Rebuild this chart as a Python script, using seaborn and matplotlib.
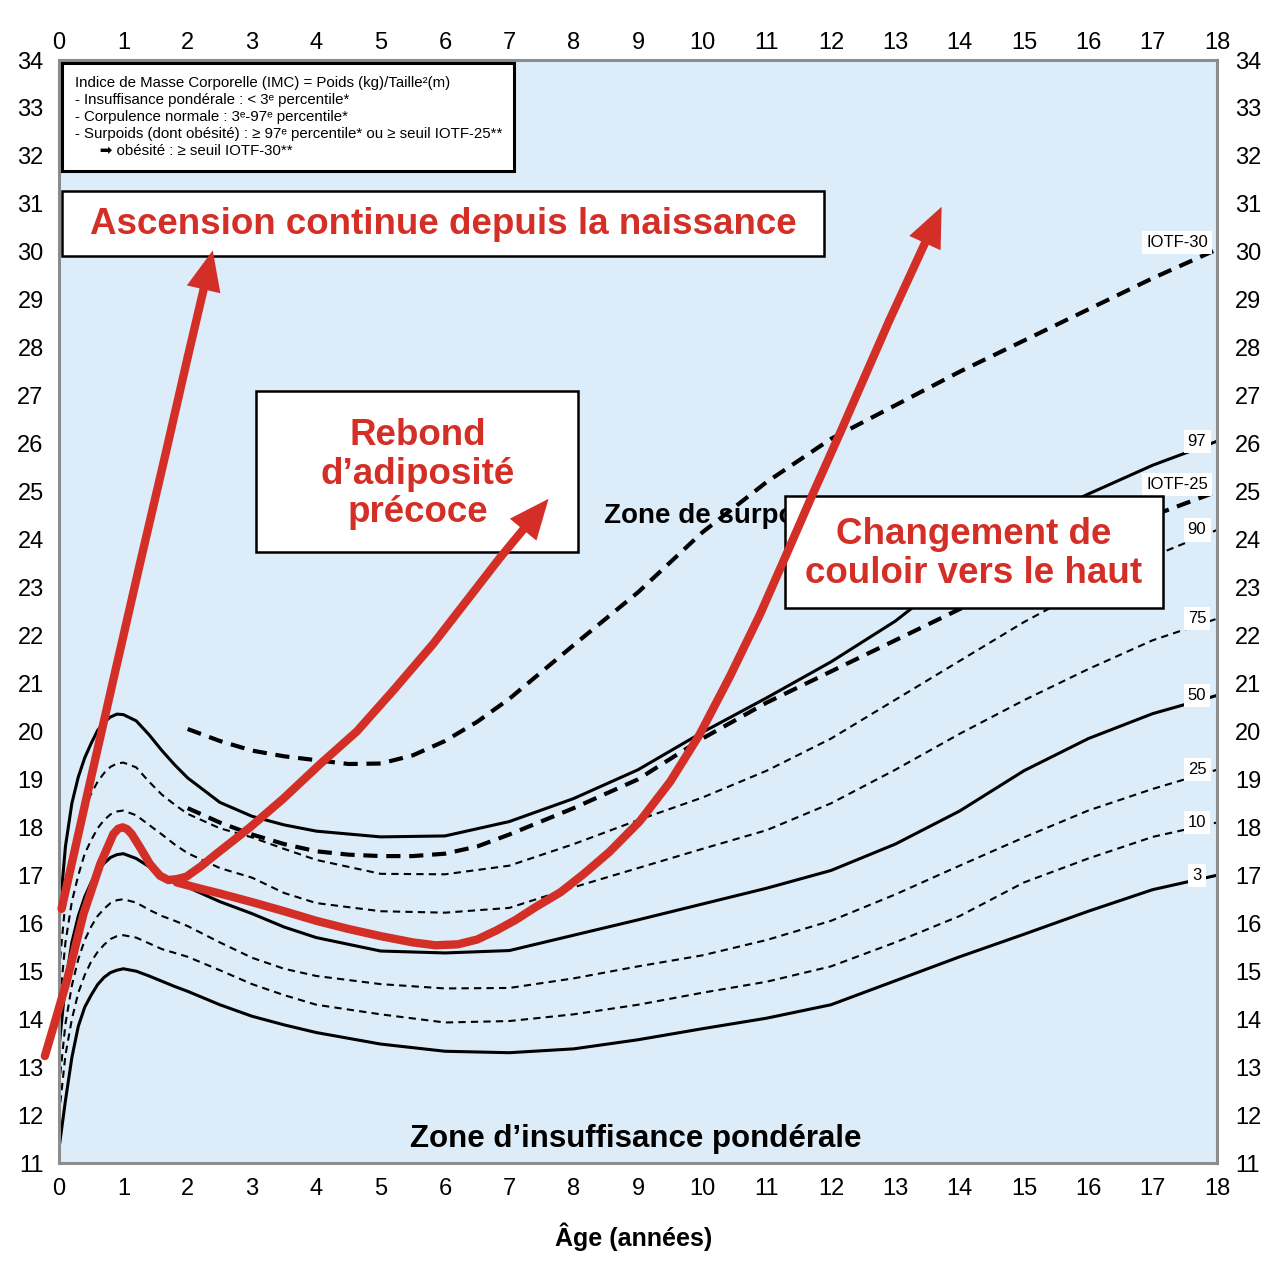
import matplotlib
matplotlib.use("Agg")
import matplotlib.pyplot as plt
from matplotlib.patches import Rectangle
import seaborn as sns

# 1. DATA (BMI, kg/m2, by age in years)
ages = [0, 0.1, 0.2, 0.3, 0.4, 0.5, 0.6, 0.7, 0.8, 0.9, 1.0, 1.2, 1.4, 1.6, 1.8, 2.0, 2.5, 3, 3.5, 4,
        5, 6, 7, 8, 9, 10, 11, 12, 13, 14, 15, 16, 17, 18]

p97 = [16.05, 17.6, 18.5, 19.05, 19.45, 19.75, 20.02, 20.19, 20.3, 20.36, 20.35, 20.22, 19.93, 19.6, 19.3,
       19.03, 18.52, 18.23, 18.05, 17.92,
       17.8, 17.82, 18.12, 18.6, 19.2, 19.98, 20.7, 21.45, 22.3, 23.35, 24.3, 24.95, 25.55, 26.05]
p90 = [15.0, 16.45, 17.35, 17.95, 18.4, 18.7, 18.95, 19.13, 19.26, 19.33, 19.35, 19.25, 18.95, 18.68, 18.47,
       18.28, 17.98, 17.79, 17.55, 17.32,
       17.03, 17.02, 17.2, 17.65, 18.15, 18.62, 19.18, 19.85, 20.66, 21.47, 22.28, 23.0, 23.65, 24.2]
p75 = [14.2, 15.6, 16.45, 17.0, 17.45, 17.73, 17.98, 18.15, 18.27, 18.33, 18.35, 18.25, 18.05, 17.85, 17.64,
       17.46, 17.15, 16.95, 16.63, 16.42,
       16.25, 16.22, 16.32, 16.75, 17.15, 17.55, 17.94, 18.5, 19.2, 19.95, 20.65, 21.3, 21.9, 22.35]
p50 = [13.4, 14.75, 15.6, 16.15, 16.55, 16.85, 17.08, 17.25, 17.37, 17.43, 17.45, 17.35, 17.18, 17.0, 16.87,
       16.75, 16.45, 16.2, 15.92, 15.7,
       15.42, 15.38, 15.43, 15.75, 16.07, 16.4, 16.73, 17.1, 17.65, 18.34, 19.18, 19.85, 20.37, 20.75]
p25 = [12.6, 13.9, 14.7, 15.25, 15.65, 15.93, 16.15, 16.3, 16.42, 16.48, 16.5, 16.43, 16.28, 16.15, 16.05,
       15.94, 15.6, 15.28, 15.05, 14.9,
       14.73, 14.64, 14.65, 14.85, 15.1, 15.33, 15.65, 16.05, 16.6, 17.2, 17.79, 18.35, 18.8, 19.2]
p10 = [12.0, 13.25, 14.0, 14.55, 14.92, 15.2, 15.4, 15.55, 15.67, 15.73, 15.75, 15.7, 15.58, 15.46, 15.38,
       15.3, 15.02, 14.73, 14.5, 14.3,
       14.1, 13.93, 13.96, 14.1, 14.3, 14.55, 14.78, 15.1, 15.6, 16.15, 16.85, 17.35, 17.8, 18.1]
p3 = [11.3, 12.3, 13.2, 13.85, 14.25, 14.5, 14.72, 14.87, 14.97, 15.02, 15.05, 15.0, 14.9, 14.79, 14.68,
      14.58, 14.3, 14.06, 13.88, 13.72,
      13.48, 13.33, 13.3, 13.38, 13.57, 13.8, 14.02, 14.3, 14.8, 15.3, 15.77, 16.25, 16.7, 17.0]

iotf_ages = [2, 2.5, 3, 3.5, 4, 4.5, 5, 5.5, 6, 6.5, 7, 8, 9, 10, 11, 12, 13, 14, 15, 16, 17, 18]
iotf25 = [18.4, 18.1, 17.85, 17.65, 17.5, 17.43, 17.4, 17.4, 17.45, 17.6, 17.85, 18.4, 19.0, 19.85, 20.6, 21.25,
          21.9, 22.55, 23.2, 23.85, 24.5, 25.0]
iotf30 = [20.05, 19.8, 19.6, 19.48, 19.4, 19.32, 19.33, 19.5, 19.8, 20.2, 20.68, 21.8, 22.9, 24.15, 25.2, 26.1,
          26.8, 27.5, 28.15, 28.8, 29.45, 30.05]

# red trajectories (last point = arrow tip)
asc_age = [0.04, 0.45, 0.84, 1.25, 1.65, 2.0, 2.39]
asc_bmi = [16.3, 18.75, 21.05, 23.45, 25.75, 27.8, 30.03]

rebond_age = [-0.22, -0.09, 0.12, 0.38, 0.64, 0.845, 0.92, 0.99, 1.06, 1.13, 1.26, 1.415, 1.57, 1.7, 1.83,
              1.98, 2.2, 2.45, 2.97, 3.48, 4.06, 4.63, 5.2, 5.82, 6.86, 7.61]
rebond_bmi = [13.23, 13.82, 14.79, 16.19, 17.23, 17.86, 17.97, 18.0, 17.96, 17.86, 17.58, 17.23, 16.99, 16.9,
              16.92, 16.97, 17.18, 17.45, 18.0, 18.59, 19.32, 20.0, 20.86, 21.83, 23.63, 24.85]

couloir_age = [1.83, 2.2, 2.5, 3.0, 3.5, 4.0, 4.5, 5.0, 5.5, 5.85, 6.2, 6.5, 6.8, 7.1, 7.4, 7.8, 8.15, 8.55,
               9.03, 9.5, 9.96, 10.43, 10.9, 11.31, 11.7, 12.14, 12.9, 13.72]
couloir_bmi = [16.85, 16.72, 16.62, 16.44, 16.25, 16.05, 15.88, 15.73, 15.6, 15.54, 15.56, 15.66, 15.85, 16.07,
               16.33, 16.65, 17.02, 17.48, 18.13, 18.95, 19.94, 21.15, 22.45, 23.7, 24.9, 26.22, 28.55, 30.94]

# 2. STYLE
RED = '#d32f27'
BG = '#dcecf8'
SPINE = '#8c8c8c'
thin_dash = (0, (3.5, 2.5))
thick_dash = (0, (3.4, 2.1))

sns.set_style("white")
plt.rcParams['font.family'] = ['Liberation Sans', 'DejaVu Sans']
plt.rcParams['text.color'] = 'black'

fig = plt.figure(figsize=(12.8, 12.78), dpi=100)
ax = fig.add_axes([59 / 1280, 1 - 1163 / 1278, (1217 - 59) / 1280, (1163 - 60) / 1278])
ax.set_facecolor(BG)

# 3. PERCENTILE CURVES
curves = [
    ('97', ages, p97, '-', 2.2),
    ('90', ages, p90, thin_dash, 1.5),
    ('75', ages, p75, thin_dash, 1.5),
    ('50', ages, p50, '-', 2.2),
    ('25', ages, p25, thin_dash, 1.5),
    ('10', ages, p10, thin_dash, 1.5),
    ('3', ages, p3, '-', 2.2),
    ('IOTF-25', iotf_ages, iotf25, thick_dash, 3.0),
    ('IOTF-30', iotf_ages, iotf30, thick_dash, 3.0),
]
for name, xs, ys, ls, lw in curves:
    sns.lineplot(x=xs, y=ys, color='black', lw=lw, linestyle=ls, ax=ax, zorder=2)
    if name.startswith('IOTF'):
        lx, ly = 17.38, ys[-1] + 0.15
    else:
        lx, ly = 17.69, ys[-1]
    ax.text(lx, ly, name, fontsize=12, ha='center', va='center', zorder=3,
            bbox=dict(facecolor='white', edgecolor='none', pad=3))

# 4. ZONE LABELS
ax.text(8.47, 24.5, 'Zone de surpoids', fontsize=20, fontweight='bold', ha='left', va='center', zorder=3)
ax.text(8.97, 11.5, 'Zone d’insuffisance pondérale', fontsize=22.5, fontweight='bold',
        ha='center', va='center', zorder=3)


def add_box(x0, x1, y0, y1, lw):
    ax.add_patch(Rectangle((x0, y0), x1 - x0, y1 - y0, facecolor='white', edgecolor='black',
                           lw=lw, zorder=4))


# legend box
add_box(0.05, 7.07, 31.68, 33.94, 2.2)
legend_txt = ("Indice de Masse Corporelle (IMC) = Poids (kg)/Taille²(m)\n"
              "- Insuffisance pondérale : < 3ᵉ percentile*\n"
              "- Corpulence normale : 3ᵉ-97ᵉ percentile*\n"
              "- Surpoids (dont obésité) : ≥ 97ᵉ percentile* ou ≥ seuil IOTF-25**\n"
              "      ➡ obésité : ≥ seuil IOTF-30**")
ax.text(0.25, 33.66, legend_txt, fontsize=10.8, linespacing=1.27, ha='left', va='top', zorder=5)

# annotation boxes
add_box(0.05, 11.89, 29.91, 31.27, 1.8)
ax.text(5.97, 30.57, 'Ascension continue depuis la naissance', color=RED, fontsize=26.5,
        fontweight='bold', ha='center', va='center', zorder=5)
add_box(3.06, 8.07, 23.75, 27.09, 1.8)
ax.text(5.57, 25.36, 'Rebond\nd’adiposité\nprécoce', color=RED, fontsize=26.5, linespacing=1.13,
        fontweight='bold', ha='center', va='center', zorder=5)
add_box(11.29, 17.16, 22.58, 24.9, 1.8)
ax.text(14.22, 23.7, 'Changement de\ncouloir vers le haut', color=RED, fontsize=26.5, linespacing=1.13,
        fontweight='bold', ha='center', va='center', zorder=5)

# 5. RED TRAJECTORIES WITH ARROWS
for xs, ys in [(asc_age, asc_bmi), (rebond_age, rebond_bmi), (couloir_age, couloir_bmi)]:
    sns.lineplot(x=xs[:-1], y=ys[:-1], color=RED, lw=6, sort=False, ax=ax, zorder=6,
                 clip_on=False, solid_capstyle='round', solid_joinstyle='round')
    ax.annotate('', xy=(xs[-1], ys[-1]), xytext=(xs[-2], ys[-2]), zorder=6,
                arrowprops=dict(arrowstyle='simple,head_length=0.72,head_width=0.62,tail_width=0.15',
                                mutation_scale=40, color=RED, lw=0, shrinkA=0, shrinkB=0))

# 6. AXES
ax.set_xlim(0, 18)
ax.set_ylim(11, 34)
ax.set_xticks(range(0, 19))
ax.set_yticks(range(11, 35))
ax.set_xticks([5, 10, 15], minor=True)
ax.set_yticks([15, 20, 25, 30], minor=True)
ax.grid(which='minor', color='white', lw=2.2, zorder=1)
ax.grid(which='major', visible=False)
ax.set_axisbelow(True)
ax.tick_params(axis='both', which='both', length=0, labelsize=17, colors='black')
ax.tick_params(axis='x', pad=11)
ax.tick_params(axis='y', pad=11)
ax.set_xlabel('')
ax.set_ylabel('')
for s in ax.spines.values():
    s.set_color(SPINE)
    s.set_linewidth(2.2)
    s.set_visible(True)

top = ax.secondary_xaxis('top')
top.set_xticks(range(0, 19))
top.tick_params(length=0, labelsize=17, pad=4, colors='black')
right = ax.secondary_yaxis('right')
right.set_yticks(range(11, 35))
right.tick_params(length=0, labelsize=17, pad=13, colors='black')
for sec in (top, right):
    for s in sec.spines.values():
        s.set_visible(False)

fig.text(633.5 / 1280, 1 - 1237 / 1278, 'Âge (années)', fontsize=18, fontweight='bold',
         ha='center', va='center')

fig.savefig('out.png', dpi=100, facecolor='white')
